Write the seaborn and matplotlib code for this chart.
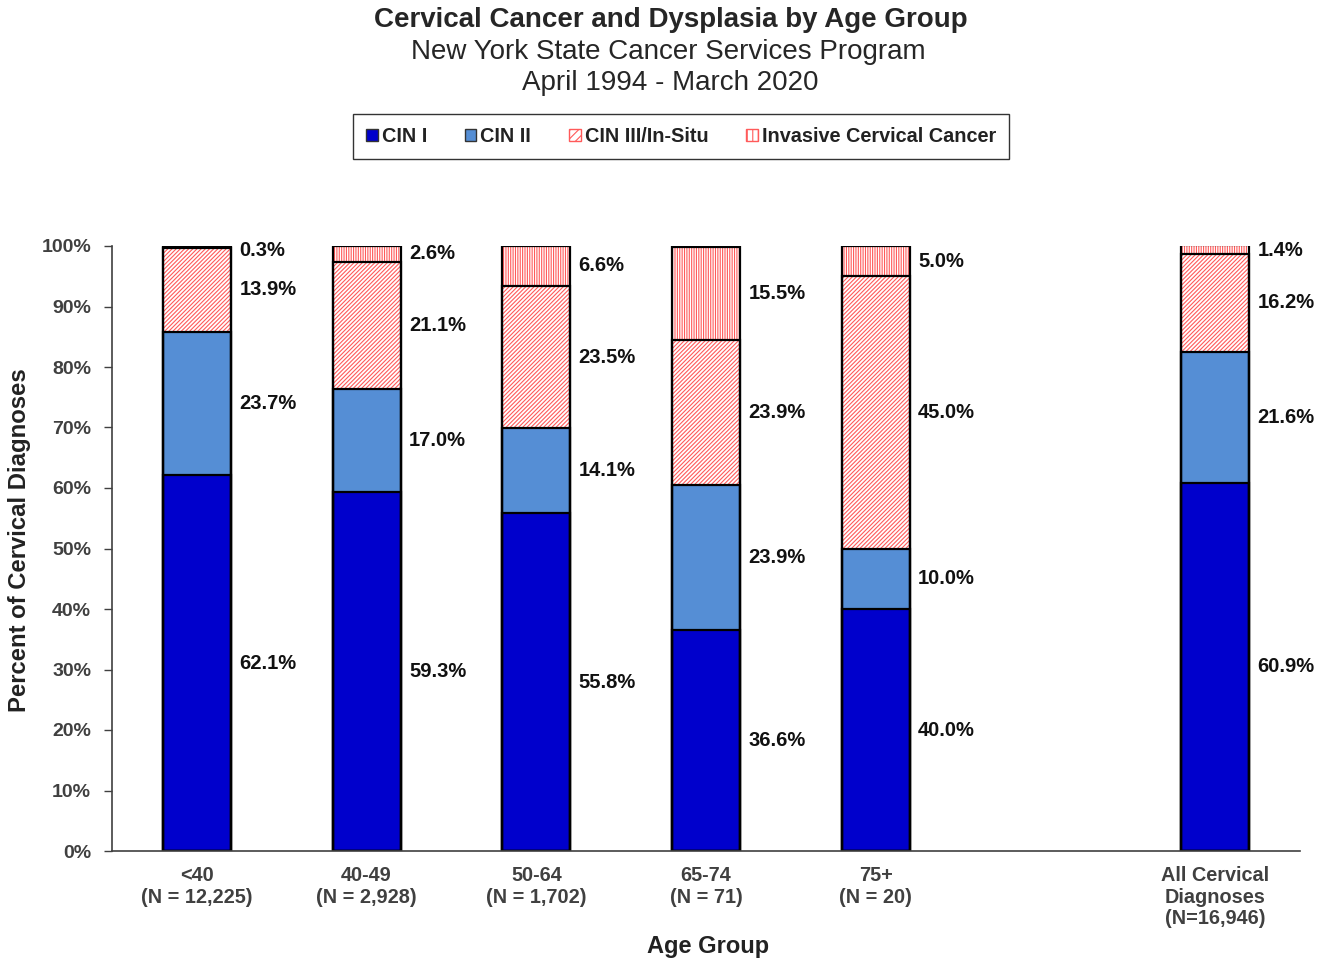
import pandas as pd
import numpy as np
import matplotlib
matplotlib.use("Agg")
import matplotlib.pyplot as plt
from matplotlib.patches import Patch
from matplotlib.ticker import PercentFormatter, FixedLocator
import seaborn as sns

# Valores (percentuais por faixa etária)
groups = ["<40\n(N = 12,225)", "40-49\n(N = 2,928)", "50-64\n(N = 1,702)",
          "65-74\n(N = 71)", "75+\n(N = 20)", "All Cervical\nDiagnoses\n(N=16,946)"]
order = groups[:5] + [" "] + groups[5:]
cin1 = [62.1, 59.3, 55.8, 36.6, 40.0, 60.9]
cin2 = [23.7, 17.0, 14.1, 23.9, 10.0, 21.6]
cin3 = [13.9, 21.1, 23.5, 23.9, 45.0, 16.2]
invasive = [0.3, 2.6, 6.6, 15.5, 5.0, 1.4]

series_names = ["CIN I", "CIN II", "CIN III/In-Situ", "Invasive Cervical Cancer"]

df = pd.DataFrame({"group": groups, "CIN I": cin1, "CIN II": cin2,
                   "CIN III/In-Situ": cin3, "Invasive Cervical Cancer": invasive})
cum = df[series_names].cumsum(axis=1)

sns.set_style("white")
plt.rcParams["font.family"] = ["Liberation Sans", "DejaVu Sans"]
plt.rcParams["hatch.linewidth"] = 0.8

fig = plt.figure(figsize=(13.22, 9.61), dpi=100)
ax = fig.add_axes([112 / 1322, 1 - 851 / 961, 1188 / 1322, 605 / 961])

red = "#FF5A5A"
styles = {
    "CIN I": dict(color="#0000CC"),
    "CIN II": dict(color="#558ED5"),
    "CIN III/In-Situ": dict(color="white", hatch="////////", edgecolor=red),
    "Invasive Cervical Cancer": dict(color="white", hatch="|||||||", edgecolor=red),
}

# Barras empilhadas: desenha do total para baixo
for name in series_names[::-1]:
    d = pd.DataFrame({"group": df["group"], "val": cum[name] / 100})
    sns.barplot(data=d, x="group", y="val", order=order, width=0.4,
                saturation=1, linewidth=0, ax=ax, **styles[name])

# Contornos pretos de cada segmento
for name in series_names:
    d = pd.DataFrame({"group": df["group"], "val": cum[name] / 100})
    sns.barplot(data=d, x="group", y="val", order=order, width=0.4,
                fill=False, edgecolor="black", linewidth=1.6, ax=ax)

# Rótulos dos percentuais
pos = {g: order.index(g) for g in groups}
for i, g in enumerate(groups):
    bottom = 0
    for name in series_names:
        v = df.loc[i, name]
        y = min((bottom + v / 2) / 100, 0.993)
        ax.text(pos[g] + 0.25, y, f"{v:.1f}%", ha="left", va="center",
                fontsize=14.5, fontweight="bold", color="#111111")
        bottom += v

ax.set_xlim(-0.5, 6.5)
ax.set_ylim(0, 1)
ax.yaxis.set_major_locator(FixedLocator(np.arange(0, 1.01, 0.1)))
ax.yaxis.set_major_formatter(PercentFormatter(1, decimals=0))
ax.set_xlabel("")
ax.set_ylabel("")
ax.xaxis.set_minor_locator(FixedLocator(np.arange(0.5, 6.6, 1)))
ax.tick_params(axis="x", which="major", length=0, pad=11, labelsize=14.3,
               labelcolor="#404040")
ax.tick_params(axis="x", which="minor", length=6, direction="in", width=1, color="#404040")
ax.tick_params(axis="y", length=6, direction="out", width=1, left=True,
               labelsize=14, labelcolor="#404040", pad=9, color="#404040")
for lab in ax.get_xticklabels() + ax.get_yticklabels():
    lab.set_fontweight("bold")
for lab in ax.get_xticklabels():
    lab.set_linespacing(1.15)
for s in ["top", "right"]:
    ax.spines[s].set_visible(False)
for s in ["left", "bottom"]:
    ax.spines[s].set_color("#404040")
    ax.spines[s].set_linewidth(1.2)

# Títulos
fig.text(671 / 1322, 1 - 20 / 961, "Cervical Cancer and Dysplasia by Age Group",
         ha="center", va="center", fontsize=20, fontweight="bold")
fig.text(668 / 1322, 1 - 52 / 961, "New York State Cancer Services Program",
         ha="center", va="center", fontsize=20)
fig.text(670 / 1322, 1 - 83 / 961, "April 1994 - March 2020",
         ha="center", va="center", fontsize=20)
fig.text(20 / 1322, 1 - 540 / 961, "Percent of Cervical Diagnoses", rotation=90,
         ha="center", va="center", fontsize=17.2, fontweight="bold", color="#222222")
fig.text(708 / 1322, 1 - 947 / 961, "Age Group", ha="center", va="center",
         fontsize=17, fontweight="bold", color="#222222")

# Legenda
handles = [Patch(facecolor="#0000CC", edgecolor="#333333"),
           Patch(facecolor="#558ED5", edgecolor="#333333"),
           Patch(facecolor="white", edgecolor=red, hatch="////"),
           Patch(facecolor="white", edgecolor=red, hatch="|||")]
leg = fig.legend(handles, series_names, loc="center", ncol=4,
                 bbox_to_anchor=(681 / 1322, 1 - 136.5 / 961), frameon=True,
                 fancybox=False, edgecolor="black", handlelength=0.6,
                 handleheight=0.6, handletextpad=0.2, columnspacing=1.9,
                 borderpad=0.65, prop=dict(weight="bold", size=14.3))
leg.get_frame().set_linewidth(1.0)
for t in leg.get_texts():
    t.set_color("#222222")

fig.savefig("out.png", dpi=100)
